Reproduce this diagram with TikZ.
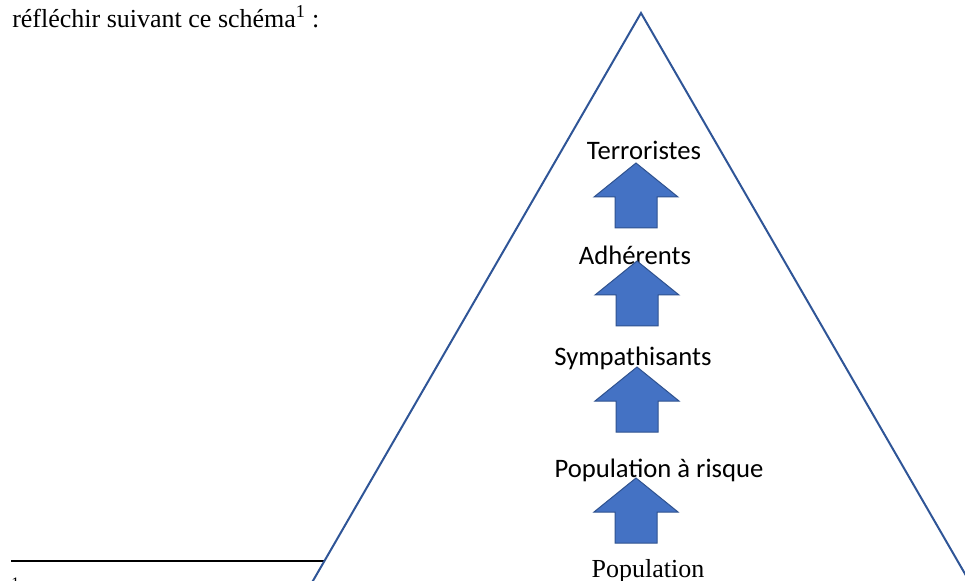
\documentclass[tikz,border=0pt]{standalone}
\usepackage{fontspec}
\setmainfont{Liberation Serif}
\newfontfamily\calibrifont{Carlito}
\usepackage{xcolor}
\usepackage{tikz}

\definecolor{arrowfill}{HTML}{4472C4}
\definecolor{arrowline}{HTML}{2F528F}
\definecolor{pyramidline}{HTML}{2F5597}

\begin{document}
\begin{tikzpicture}[x=0.75pt,y=0.75pt,yscale=-1,xscale=1,
  levelarrow/.style={draw=arrowline, fill=arrowfill, line width=0.75},
  levellabel/.style={font=\calibrifont\fontsize{20}{24}\selectfont, anchor=base, inner sep=0pt},
  bodytext/.style={font=\fontsize{19.5}{23}\selectfont, inner sep=0pt},
  upblock/.pic={\draw[levelarrow] (0,0) -- (42,-34) -- (21,-34) -- (21,-65) -- (-21,-65) -- (-21,-34) -- (-42,-34) -- cycle;}
]
\useasboundingbox (0,0) rectangle (965,581);
\clip (0,0) rectangle (965,581);

% Text Node
\node[bodytext, anchor=base west] (intro) at (12,28) {réfléchir suivant ce schéma\textsuperscript{1} :};
%Straight Lines
\draw [line width=1.2]  (11,561) -- (360,561) ;
% Text Node
\node[font=\fontsize{12}{14}\selectfont, anchor=base west, inner sep=0pt] (fnmark) at (11,588) {1};

%Shape: Triangle
\draw [draw=pyramidline, fill=white, line width=1.5]  (641,13) -- (1009,650) -- (273,650) -- cycle ;

% Text Node
\node[levellabel] (terroristes) at (644,160) {Terroristes};
% Text Node
\node[levellabel] (adherents) at (635,265) {Adhérents};
% Text Node
\node[levellabel] (sympathisants) at (633,365) {Sympathisants};
% Text Node
\node[levellabel] (risque) at (659,477) {Population à risque};
% Text Node
\node[bodytext, anchor=base] (population) at (648,577) {Population};

%Shape: Up Arrow
\pic at (636,163) {upblock};
%Shape: Up Arrow
\pic at (637,261) {upblock};
%Shape: Up Arrow
\pic at (637,367) {upblock};
%Shape: Up Arrow
\pic at (636,478) {upblock};
\end{tikzpicture}
\end{document}
